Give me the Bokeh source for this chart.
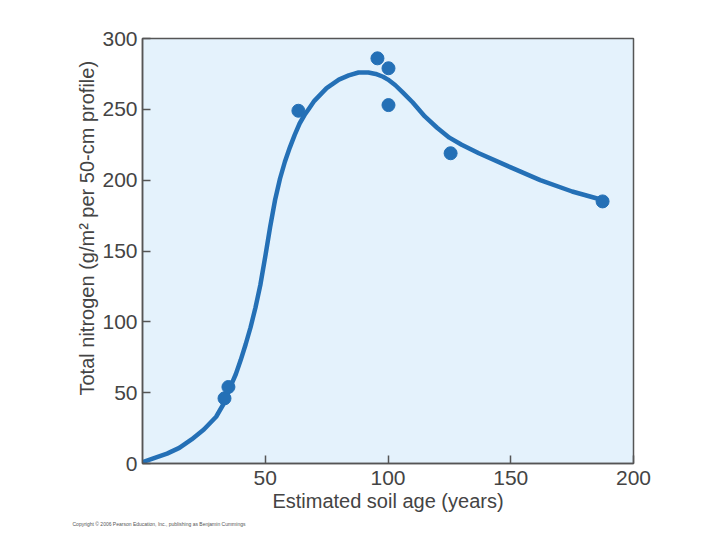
from bokeh.plotting import figure
from bokeh.models import Range1d, FixedTicker, Title
from bokeh.embed import file_html
from bokeh.resources import INLINE

# observed data points (estimated soil age, total nitrogen)
age_obs = [33.4, 35.0, 63.5, 95.7, 100.2, 100.2, 125.5, 187.4]
n_obs = [46, 54, 249, 286, 279, 253, 219, 185]

# fitted curve
curve_age = [0, 5, 10, 15, 20, 25, 30, 33, 36, 38, 40, 42, 44, 46, 48, 50, 52, 54, 56, 58,
             60, 62, 64, 66, 68, 70, 75, 80, 84, 88, 92, 95, 98, 100, 103, 106, 110, 115,
             120, 125, 130, 137, 150, 162, 175, 187.4]
curve_n = [1, 4, 7, 11, 17, 24, 33, 42, 55, 63, 73, 84, 96, 110, 126, 146, 167, 186, 201, 213,
           223, 232, 240, 246, 251, 256, 265, 271, 274, 276, 276, 275, 273, 271, 267, 262, 255, 245,
           237, 230, 225, 219, 209, 200, 192, 186]

x_ticks = [50, 100, 150, 200]
y_ticks = [0, 50, 100, 150, 200, 250, 300]

FONT = "Liberation Sans"
BLUE = "#2470b6"
TXT = "#444444"

p = figure(width=712, height=532, output_backend="svg", toolbar_location=None,
           x_range=Range1d(0, 200), y_range=Range1d(0, 300),
           min_border_left=142, min_border_right=79, min_border_top=38,
           min_border_bottom=69)

p.background_fill_color = "#e4f2fc"
p.border_fill_color = "white"
p.outline_line_color = "#555555"
p.outline_line_width = 1.5
p.grid.visible = False

p.line(curve_age, curve_n, line_color=BLUE, line_width=4.5, line_cap="round", line_join="round")
p.scatter(age_obs, n_obs, size=13, fill_color=BLUE, line_color=BLUE)

for ax in (p.xaxis[0], p.yaxis[0]):
    ax.axis_line_color = "#555555"
    ax.axis_line_width = 1.5
    ax.major_tick_in = 8
    ax.major_tick_out = 0
    ax.major_tick_line_color = "#555555"
    ax.major_tick_line_width = 1.5
    ax.minor_tick_line_color = None
    ax.major_label_text_font = FONT
    ax.major_label_text_font_size = "21px"
    ax.major_label_text_color = TXT
    ax.axis_label_text_font = FONT
    ax.axis_label_text_font_size = "20px"
    ax.axis_label_text_font_style = "normal"
    ax.axis_label_text_color = TXT

p.xaxis.ticker = FixedTicker(ticks=x_ticks)
p.yaxis.ticker = FixedTicker(ticks=y_ticks)
p.xaxis.major_label_standoff = 7
p.yaxis.major_label_standoff = 5
p.xaxis.axis_label = "Estimated soil age (years)"
p.xaxis.axis_label_standoff = 2

p.add_layout(Title(text="Total nitrogen (g/m² per 50-cm profile)", align="left", offset=68,
                   text_font=FONT, text_font_size="20px", text_font_style="normal",
                   text_color=TXT, standoff=4), "left")

p.add_layout(Title(text="Copyright © 2006 Pearson Education, Inc., publishing as Benjamin Cummings",
                   align="left", offset=-70, standoff=8,
                   text_font=FONT, text_font_size="5px", text_font_style="normal",
                   text_color="#555555"), "below")

open("out.html", "w").write(file_html(p, INLINE))
